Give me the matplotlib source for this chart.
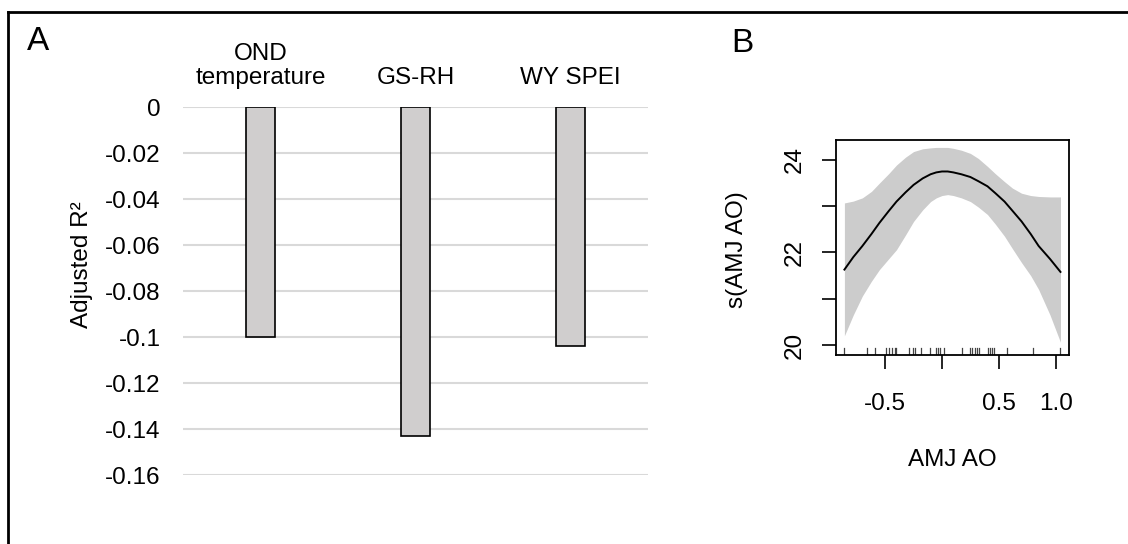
import matplotlib.pyplot as plt
from matplotlib.lines import Line2D

plt.rcParams['font.family'] = ['Liberation Sans', 'DejaVu Sans']

# panel A: adjusted R2 of the climate models
categories = ['OND\ntemperature', 'GS-RH', 'WY SPEI']
adj_r2 = [-0.100, -0.143, -0.104]
a_ticks = [0, -0.02, -0.04, -0.06, -0.08, -0.1, -0.12, -0.14, -0.16]
a_tick_labels = ['0', '-0.02', '-0.04', '-0.06', '-0.08', '-0.1', '-0.12', '-0.14', '-0.16']

# panel B: GAM smooth of AMJ AO
ao_x = [-0.858, -0.78, -0.70, -0.62, -0.55, -0.47, -0.40, -0.32, -0.25, -0.17, -0.10, -0.05,
        0.0, 0.05, 0.10, 0.17, 0.25, 0.32, 0.40, 0.47, 0.55, 0.62, 0.70, 0.78, 0.85, 0.95, 1.042]
fit = [21.63, 21.90, 22.14, 22.40, 22.64, 22.89, 23.10, 23.30, 23.46, 23.60, 23.69, 23.73,
       23.75, 23.75, 23.73, 23.69, 23.63, 23.54, 23.43, 23.28, 23.10, 22.90, 22.67, 22.40, 22.14, 21.86, 21.58]
upper = [23.07, 23.11, 23.18, 23.32, 23.50, 23.70, 23.89, 24.06, 24.18, 24.24, 24.26, 24.27,
         24.27, 24.27, 24.25, 24.21, 24.14, 24.03, 23.86, 23.70, 23.53, 23.39, 23.28, 23.23, 23.21, 23.20, 23.20]
lower = [20.20, 20.65, 21.06, 21.38, 21.63, 21.86, 22.06, 22.38, 22.67, 22.92, 23.10, 23.18,
         23.23, 23.25, 23.23, 23.18, 23.10, 22.98, 22.82, 22.61, 22.35, 22.08, 21.78, 21.50, 21.20, 20.65, 20.06]
rug = [-0.858, -0.658, -0.585, -0.491, -0.462, -0.438, -0.414, -0.403, -0.291, -0.256,
       -0.241, -0.182, -0.109, -0.050, -0.035, -0.015, 0.014, 0.176, 0.243, 0.264,
       0.293, 0.308, 0.322, 0.402, 0.419, 0.441, 0.455, 0.573, 0.802, 1.042]
b_xticks = [-0.5, 0.0, 0.5, 1.0]
b_xtick_labels = ['-0.5', '', '0.5', '1.0']
b_yticks = [20, 21, 22, 23, 24]
b_ytick_labels = ['20', '', '22', '', '24']

W, H = 1128, 544
fig = plt.figure(figsize=(W / 100, H / 100), dpi=100)
fs = 17.5

# outer frame (top and left edges)
fig.add_artist(Line2D([8 / W, 1], [1 - 12 / H, 1 - 12 / H], color='black', lw=2))
fig.add_artist(Line2D([8 / W, 8 / W], [0, 1 - 12 / H], color='black', lw=2))

# ---- panel A
ax = fig.add_axes([183 / W, 1 - 475 / H, 465 / W, 368 / H])
xs = range(len(categories))
ax.bar(xs, adj_r2, width=0.19, color='#d0cece', edgecolor='black', linewidth=1.2, zorder=3)
ax.set_xlim(-0.5, len(categories) - 0.5)
ax.set_ylim(-0.16, 0)
ax.set_yticks(a_ticks)
ax.set_yticklabels(a_tick_labels)
ax.grid(axis='y', color='#d9d9d9', lw=1.5, zorder=0)
for s in ax.spines.values():
    s.set_visible(False)
ax.tick_params(axis='y', length=0, pad=16, labelsize=fs)
ax.xaxis.tick_top()
ax.set_xticks(list(xs))
ax.set_xticklabels(categories, multialignment='center', linespacing=1.1)
ax.tick_params(axis='x', length=0, pad=13, labelsize=fs)
fig.text(82 / W, 1 - 265 / H, 'Adjusted R²', rotation=90, ha='center', va='center', fontsize=fs)
fig.text(27 / W, 1 - 41 / H, 'A', ha='left', va='center', fontsize=24)

# ---- panel B
bx = fig.add_axes([836 / W, 1 - 355 / H, 233 / W, 215 / H])
bx.fill_between(ao_x, lower, upper, color='#cccccc', lw=0)
bx.plot(ao_x, fit, color='black', lw=1.4)
for r in rug:
    bx.plot([r, r], [19.785, 19.935], color='#444444', lw=0.9)
bx.set_xlim(-0.932, 1.117)
bx.set_ylim(19.785, 24.43)
bx.set_xticks(b_xticks)
bx.set_xticklabels(b_xtick_labels)
bx.set_yticks(b_yticks)
bx.set_yticklabels(b_ytick_labels, rotation=90, va='center')
bx.tick_params(direction='out', length=10, width=1.2, labelsize=fs)
bx.tick_params(axis='x', pad=17)
bx.tick_params(axis='y', pad=12)
for s in bx.spines.values():
    s.set_linewidth(1.3)
fig.text(737 / W, 1 - 250 / H, 's(AMJ AO)', rotation=90, ha='center', va='center', fontsize=fs)
fig.text(952 / W, 1 - 460 / H, 'AMJ AO', ha='center', va='center', fontsize=fs)
fig.text(731 / W, 1 - 43 / H, 'B', ha='left', va='center', fontsize=24)

fig.savefig('out.png', dpi=100)
